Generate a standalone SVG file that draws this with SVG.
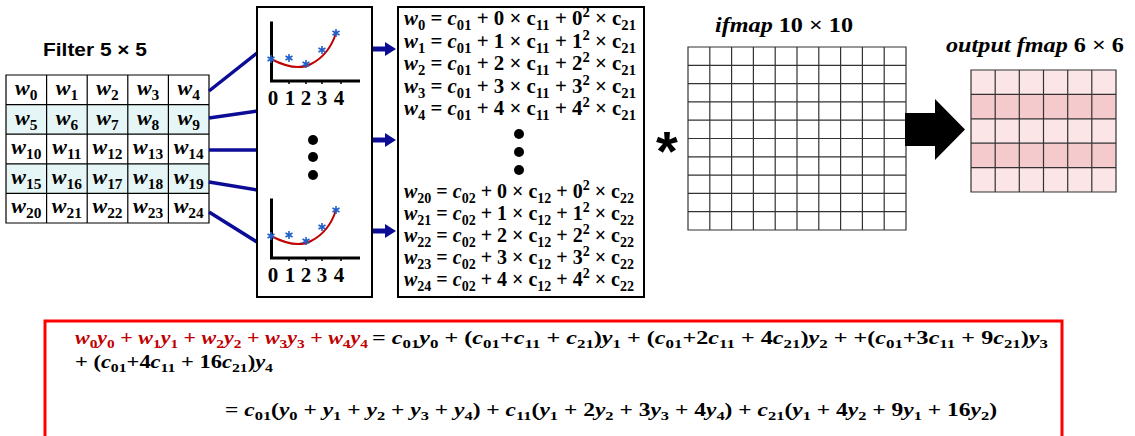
<svg xmlns="http://www.w3.org/2000/svg" xmlns:xlink="http://www.w3.org/1999/xlink" width="1135" height="436" viewBox="0 0 1135 436">
<style>
.m{font-family:"Liberation Serif","DejaVu Serif",serif;font-weight:bold;fill:#000}
.i{font-style:italic}
.sb{font-size:70%}
.red{fill:#c00000}
.cell{stroke:#000;stroke-width:1.2}
.grid{stroke:#333;stroke-width:1.2;fill:none}
.conn{stroke:#0c0c96;stroke-width:3.5;fill:none}
.arr{stroke:#0c0c96;stroke-width:5;fill:none;marker-end:url(#ah)}
.ax{stroke:#000;stroke-width:3;fill:none}
.tk{stroke:#000;stroke-width:1.5}
.crv{stroke:#c00000;stroke-width:2;fill:none}
.eq{font-size:20px}
.eqb{font-size:19px}
</style>
<defs>
<marker id="ah" markerWidth="12" markerHeight="14" refX="0" refY="7" orient="auto" markerUnits="userSpaceOnUse"><path d="M0,0 L11,7 L0,14 z" fill="#0c0c96"/></marker>
<g id="star"><path d="M0,-4 V4 M-3.5,-2 L3.5,2 M-3.5,2 L3.5,-2" stroke="#1f5fc8" stroke-width="1.6"/></g>
<g id="plot">
<path class="ax" d="M271.5,21.5 V81 H360"/>
<path class="tk" d="M289,81 v3 M306,81 v3 M322,81 v3 M341,81 v3"/>
<path class="crv" d="M271,59 Q296,72 311,64 Q329,55 336,33"/>
<use xlink:href="#star" x="271" y="59"/>
<use xlink:href="#star" x="289" y="58"/>
<use xlink:href="#star" x="306" y="64"/>
<use xlink:href="#star" x="322" y="50"/>
<use xlink:href="#star" x="336" y="33"/>
</g>
</defs>
<rect width="1135" height="436" fill="#fff"/>

<g id="filter">
<text x="43" y="56" font-family="Liberation Sans,Arial,sans-serif" font-weight="bold" font-size="18" textLength="104" lengthAdjust="spacingAndGlyphs">Filter 5 × 5</text>
<rect x="6" y="104.6" width="203" height="29.6" fill="#e6f5f5"/>
<rect x="6" y="163.8" width="203" height="29.6" fill="#e6f5f5"/>
<path class="cell" fill="none" d="M6,75 H209 V223 H6 Z M6,104.6 H209 M6,134.2 H209 M6,163.8 H209 M6,193.4 H209 M46.6,75 V223 M87.2,75 V223 M127.8,75 V223 M168.4,75 V223"/>
<g class="m" font-size="22" text-anchor="middle">
<text x="26.3" y="95"><tspan class="i">w</tspan><tspan class="sb" dy="5">0</tspan></text>
<text x="66.9" y="95"><tspan class="i">w</tspan><tspan class="sb" dy="5">1</tspan></text>
<text x="107.5" y="95"><tspan class="i">w</tspan><tspan class="sb" dy="5">2</tspan></text>
<text x="148.1" y="95"><tspan class="i">w</tspan><tspan class="sb" dy="5">3</tspan></text>
<text x="188.7" y="95"><tspan class="i">w</tspan><tspan class="sb" dy="5">4</tspan></text>
<text x="26.3" y="124.6"><tspan class="i">w</tspan><tspan class="sb" dy="5">5</tspan></text>
<text x="66.9" y="124.6"><tspan class="i">w</tspan><tspan class="sb" dy="5">6</tspan></text>
<text x="107.5" y="124.6"><tspan class="i">w</tspan><tspan class="sb" dy="5">7</tspan></text>
<text x="148.1" y="124.6"><tspan class="i">w</tspan><tspan class="sb" dy="5">8</tspan></text>
<text x="188.7" y="124.6"><tspan class="i">w</tspan><tspan class="sb" dy="5">9</tspan></text>
<text x="26.3" y="154.2"><tspan class="i">w</tspan><tspan class="sb" dy="5">10</tspan></text>
<text x="66.9" y="154.2"><tspan class="i">w</tspan><tspan class="sb" dy="5">11</tspan></text>
<text x="107.5" y="154.2"><tspan class="i">w</tspan><tspan class="sb" dy="5">12</tspan></text>
<text x="148.1" y="154.2"><tspan class="i">w</tspan><tspan class="sb" dy="5">13</tspan></text>
<text x="188.7" y="154.2"><tspan class="i">w</tspan><tspan class="sb" dy="5">14</tspan></text>
<text x="26.3" y="183.8"><tspan class="i">w</tspan><tspan class="sb" dy="5">15</tspan></text>
<text x="66.9" y="183.8"><tspan class="i">w</tspan><tspan class="sb" dy="5">16</tspan></text>
<text x="107.5" y="183.8"><tspan class="i">w</tspan><tspan class="sb" dy="5">17</tspan></text>
<text x="148.1" y="183.8"><tspan class="i">w</tspan><tspan class="sb" dy="5">18</tspan></text>
<text x="188.7" y="183.8"><tspan class="i">w</tspan><tspan class="sb" dy="5">19</tspan></text>
<text x="26.3" y="213.4"><tspan class="i">w</tspan><tspan class="sb" dy="5">20</tspan></text>
<text x="66.9" y="213.4"><tspan class="i">w</tspan><tspan class="sb" dy="5">21</tspan></text>
<text x="107.5" y="213.4"><tspan class="i">w</tspan><tspan class="sb" dy="5">22</tspan></text>
<text x="148.1" y="213.4"><tspan class="i">w</tspan><tspan class="sb" dy="5">23</tspan></text>
<text x="188.7" y="213.4"><tspan class="i">w</tspan><tspan class="sb" dy="5">24</tspan></text>
</g>
</g>

<g id="connectors">
<path class="conn" d="M209,91 L257,53 M209,118 L257,111 M209,150 L257,150 M209,182 L257,190 M209,212 L257,242"/>
<path class="arr" d="M372,49 H385"/>
<path class="arr" d="M372,140 H385"/>
<path class="arr" d="M372,231 H385"/>
</g>

<g id="curves">
<rect x="257" y="7" width="115" height="290" fill="#fff" stroke="#000" stroke-width="2"/>
<use xlink:href="#plot"/>
<use xlink:href="#plot" y="177"/>
<g class="m" font-size="21" text-anchor="middle">
<text y="105"><tspan x="273">0</tspan><tspan x="290">1</tspan><tspan x="306">2</tspan><tspan x="322">3</tspan><tspan x="339">4</tspan></text>
<text y="282"><tspan x="273">0</tspan><tspan x="290">1</tspan><tspan x="306">2</tspan><tspan x="322">3</tspan><tspan x="339">4</tspan></text>
</g>
<circle cx="313" cy="140" r="5"/>
<circle cx="313" cy="157" r="5"/>
<circle cx="313" cy="175" r="5"/>
</g>

<g id="equations">
<rect x="398" y="7" width="246" height="290" fill="#fff" stroke="#000" stroke-width="2"/>
<g class="m eq">
<text x="404" y="25" textLength="232" lengthAdjust="spacingAndGlyphs"><tspan class="i">w</tspan><tspan class="sb" dy="5">0</tspan><tspan dy="-5"> = </tspan><tspan class="i">c</tspan><tspan class="sb" dy="5">01</tspan><tspan dy="-5"> + 0 × c</tspan><tspan class="sb" dy="5">11</tspan><tspan dy="-5"> + 0</tspan><tspan class="sb" dy="-8">2</tspan><tspan dy="8"> × c</tspan><tspan class="sb" dy="5">21</tspan></text>
<text x="404" y="47.5" textLength="232" lengthAdjust="spacingAndGlyphs"><tspan class="i">w</tspan><tspan class="sb" dy="5">1</tspan><tspan dy="-5"> = </tspan><tspan class="i">c</tspan><tspan class="sb" dy="5">01</tspan><tspan dy="-5"> + 1 × c</tspan><tspan class="sb" dy="5">11</tspan><tspan dy="-5"> + 1</tspan><tspan class="sb" dy="-8">2</tspan><tspan dy="8"> × c</tspan><tspan class="sb" dy="5">21</tspan></text>
<text x="404" y="70" textLength="232" lengthAdjust="spacingAndGlyphs"><tspan class="i">w</tspan><tspan class="sb" dy="5">2</tspan><tspan dy="-5"> = </tspan><tspan class="i">c</tspan><tspan class="sb" dy="5">01</tspan><tspan dy="-5"> + 2 × c</tspan><tspan class="sb" dy="5">11</tspan><tspan dy="-5"> + 2</tspan><tspan class="sb" dy="-8">2</tspan><tspan dy="8"> × c</tspan><tspan class="sb" dy="5">21</tspan></text>
<text x="404" y="92.5" textLength="232" lengthAdjust="spacingAndGlyphs"><tspan class="i">w</tspan><tspan class="sb" dy="5">3</tspan><tspan dy="-5"> = </tspan><tspan class="i">c</tspan><tspan class="sb" dy="5">01</tspan><tspan dy="-5"> + 3 × c</tspan><tspan class="sb" dy="5">11</tspan><tspan dy="-5"> + 3</tspan><tspan class="sb" dy="-8">2</tspan><tspan dy="8"> × c</tspan><tspan class="sb" dy="5">21</tspan></text>
<text x="404" y="115" textLength="232" lengthAdjust="spacingAndGlyphs"><tspan class="i">w</tspan><tspan class="sb" dy="5">4</tspan><tspan dy="-5"> = </tspan><tspan class="i">c</tspan><tspan class="sb" dy="5">01</tspan><tspan dy="-5"> + 4 × c</tspan><tspan class="sb" dy="5">11</tspan><tspan dy="-5"> + 4</tspan><tspan class="sb" dy="-8">2</tspan><tspan dy="8"> × c</tspan><tspan class="sb" dy="5">21</tspan></text>
<text x="404" y="198" textLength="230" lengthAdjust="spacingAndGlyphs"><tspan class="i">w</tspan><tspan class="sb" dy="5">20</tspan><tspan dy="-5"> = </tspan><tspan class="i">c</tspan><tspan class="sb" dy="5">02</tspan><tspan dy="-5"> + 0 × c</tspan><tspan class="sb" dy="5">12</tspan><tspan dy="-5"> + 0</tspan><tspan class="sb" dy="-8">2</tspan><tspan dy="8"> × c</tspan><tspan class="sb" dy="5">22</tspan></text>
<text x="404" y="220" textLength="230" lengthAdjust="spacingAndGlyphs"><tspan class="i">w</tspan><tspan class="sb" dy="5">21</tspan><tspan dy="-5"> = </tspan><tspan class="i">c</tspan><tspan class="sb" dy="5">02</tspan><tspan dy="-5"> + 1 × c</tspan><tspan class="sb" dy="5">12</tspan><tspan dy="-5"> + 1</tspan><tspan class="sb" dy="-8">2</tspan><tspan dy="8"> × c</tspan><tspan class="sb" dy="5">22</tspan></text>
<text x="404" y="242" textLength="230" lengthAdjust="spacingAndGlyphs"><tspan class="i">w</tspan><tspan class="sb" dy="5">22</tspan><tspan dy="-5"> = </tspan><tspan class="i">c</tspan><tspan class="sb" dy="5">02</tspan><tspan dy="-5"> + 2 × c</tspan><tspan class="sb" dy="5">12</tspan><tspan dy="-5"> + 2</tspan><tspan class="sb" dy="-8">2</tspan><tspan dy="8"> × c</tspan><tspan class="sb" dy="5">22</tspan></text>
<text x="404" y="264" textLength="230" lengthAdjust="spacingAndGlyphs"><tspan class="i">w</tspan><tspan class="sb" dy="5">23</tspan><tspan dy="-5"> = </tspan><tspan class="i">c</tspan><tspan class="sb" dy="5">02</tspan><tspan dy="-5"> + 3 × c</tspan><tspan class="sb" dy="5">12</tspan><tspan dy="-5"> + 3</tspan><tspan class="sb" dy="-8">2</tspan><tspan dy="8"> × c</tspan><tspan class="sb" dy="5">22</tspan></text>
<text x="404" y="286" textLength="230" lengthAdjust="spacingAndGlyphs"><tspan class="i">w</tspan><tspan class="sb" dy="5">24</tspan><tspan dy="-5"> = </tspan><tspan class="i">c</tspan><tspan class="sb" dy="5">02</tspan><tspan dy="-5"> + 4 × c</tspan><tspan class="sb" dy="5">12</tspan><tspan dy="-5"> + 4</tspan><tspan class="sb" dy="-8">2</tspan><tspan dy="8"> × c</tspan><tspan class="sb" dy="5">22</tspan></text>
</g>
<circle cx="519" cy="134" r="5"/>
<circle cx="519" cy="152" r="5"/>
<circle cx="519" cy="170" r="5"/>
</g>

<g id="conv-op">
<text x="667" y="170" text-anchor="middle" font-family="Liberation Sans,Arial,sans-serif" font-weight="bold" font-size="56">*</text>
</g>

<g id="ifmap">
<text class="m" x="715" y="32" font-size="22" textLength="138" lengthAdjust="spacingAndGlyphs"><tspan class="i">ifmap</tspan> 10 × 10</text>
<rect x="688" y="47" width="218" height="183" fill="#fff"/>
<path class="grid" d="M688,47 H906 V230 H688 Z M709.8,47 V230 M731.6,47 V230 M753.4,47 V230 M775.2,47 V230 M797,47 V230 M818.8,47 V230 M840.6,47 V230 M862.4,47 V230 M884.2,47 V230 M688,65.3 H906 M688,83.6 H906 M688,101.9 H906 M688,120.2 H906 M688,138.5 H906 M688,156.8 H906 M688,175.1 H906 M688,193.4 H906 M688,211.7 H906"/>
</g>

<g id="big-arrow">
<polygon points="905,113 935,113 935,99 965,129.5 935,160 935,146 905,146" fill="#000"/>
</g>

<g id="output">
<text class="m" x="946" y="52" font-size="22" textLength="178" lengthAdjust="spacingAndGlyphs"><tspan class="i">output fmap</tspan> 6 × 6</text>
<rect x="971" y="70" width="145" height="24.4" fill="#fbe5e6"/>
<rect x="971" y="94.4" width="145" height="24.4" fill="#f4cacc"/>
<rect x="971" y="118.8" width="145" height="24.4" fill="#fbe5e6"/>
<rect x="971" y="143.2" width="145" height="24.4" fill="#f4cacc"/>
<rect x="971" y="167.6" width="145" height="24.4" fill="#fbe5e6"/>
<path class="grid" d="M971,70 H1116 V192 H971 Z M995.2,70 V192 M1019.3,70 V192 M1043.5,70 V192 M1067.7,70 V192 M1091.8,70 V192 M971,94.4 H1116 M971,118.8 H1116 M971,143.2 H1116 M971,167.6 H1116"/>
</g>

<g id="formula">
<rect x="45" y="321" width="1017" height="125" fill="#fff" stroke="#ff0000" stroke-width="3"/>
<g class="m eqb">
<text class="red" x="75" y="344" textLength="293" lengthAdjust="spacingAndGlyphs"><tspan class="i">w</tspan><tspan class="sb" dy="4">0</tspan><tspan class="i" dy="-4">y</tspan><tspan class="sb" dy="4">0</tspan><tspan dy="-4"> + </tspan><tspan class="i">w</tspan><tspan class="sb" dy="4">1</tspan><tspan class="i" dy="-4">y</tspan><tspan class="sb" dy="4">1</tspan><tspan dy="-4"> + </tspan><tspan class="i">w</tspan><tspan class="sb" dy="4">2</tspan><tspan class="i" dy="-4">y</tspan><tspan class="sb" dy="4">2</tspan><tspan dy="-4"> + </tspan><tspan class="i">w</tspan><tspan class="sb" dy="4">3</tspan><tspan class="i" dy="-4">y</tspan><tspan class="sb" dy="4">3</tspan><tspan dy="-4"> +  </tspan><tspan class="i">w</tspan><tspan class="sb" dy="4">4</tspan><tspan class="i" dy="-4">y</tspan><tspan class="sb" dy="4">4</tspan></text>
<text x="372" y="344" textLength="676" lengthAdjust="spacingAndGlyphs">= <tspan class="i">c</tspan><tspan class="sb" dy="4">01</tspan><tspan class="i" dy="-4">y</tspan><tspan class="sb" dy="4">0</tspan><tspan dy="-4"> + (</tspan><tspan class="i">c</tspan><tspan class="sb" dy="4">01</tspan><tspan dy="-4">+</tspan><tspan class="i">c</tspan><tspan class="sb" dy="4">11</tspan><tspan dy="-4"> + </tspan><tspan class="i">c</tspan><tspan class="sb" dy="4">21</tspan><tspan dy="-4">)</tspan><tspan class="i">y</tspan><tspan class="sb" dy="4">1</tspan><tspan dy="-4"> + (</tspan><tspan class="i">c</tspan><tspan class="sb" dy="4">01</tspan><tspan dy="-4">+2</tspan><tspan class="i">c</tspan><tspan class="sb" dy="4">11</tspan><tspan dy="-4"> + 4</tspan><tspan class="i">c</tspan><tspan class="sb" dy="4">21</tspan><tspan dy="-4">)</tspan><tspan class="i">y</tspan><tspan class="sb" dy="4">2</tspan><tspan dy="-4"> + +(</tspan><tspan class="i">c</tspan><tspan class="sb" dy="4">01</tspan><tspan dy="-4">+3</tspan><tspan class="i">c</tspan><tspan class="sb" dy="4">11</tspan><tspan dy="-4"> + 9</tspan><tspan class="i">c</tspan><tspan class="sb" dy="4">21</tspan><tspan dy="-4">)</tspan><tspan class="i">y</tspan><tspan class="sb" dy="4">3</tspan></text>
<text x="75" y="368" textLength="198" lengthAdjust="spacingAndGlyphs">+ (<tspan class="i">c</tspan><tspan class="sb" dy="4">01</tspan><tspan dy="-4">+4</tspan><tspan class="i">c</tspan><tspan class="sb" dy="4">11</tspan><tspan dy="-4"> + 16</tspan><tspan class="i">c</tspan><tspan class="sb" dy="4">21</tspan><tspan dy="-4">)</tspan><tspan class="i">y</tspan><tspan class="sb" dy="4">4</tspan></text>
<text x="225" y="416" textLength="772" lengthAdjust="spacingAndGlyphs">= <tspan class="i">c</tspan><tspan class="sb" dy="4">01</tspan><tspan dy="-4">(</tspan><tspan class="i">y</tspan><tspan class="sb" dy="4">0</tspan><tspan dy="-4"> + </tspan><tspan class="i">y</tspan><tspan class="sb" dy="4">1</tspan><tspan dy="-4"> + </tspan><tspan class="i">y</tspan><tspan class="sb" dy="4">2</tspan><tspan dy="-4"> + </tspan><tspan class="i">y</tspan><tspan class="sb" dy="4">3</tspan><tspan dy="-4"> + </tspan><tspan class="i">y</tspan><tspan class="sb" dy="4">4</tspan><tspan dy="-4">) + </tspan><tspan class="i">c</tspan><tspan class="sb" dy="4">11</tspan><tspan dy="-4">(</tspan><tspan class="i">y</tspan><tspan class="sb" dy="4">1</tspan><tspan dy="-4"> + 2</tspan><tspan class="i">y</tspan><tspan class="sb" dy="4">2</tspan><tspan dy="-4"> + 3</tspan><tspan class="i">y</tspan><tspan class="sb" dy="4">3</tspan><tspan dy="-4"> + 4</tspan><tspan class="i">y</tspan><tspan class="sb" dy="4">4</tspan><tspan dy="-4">) + </tspan><tspan class="i">c</tspan><tspan class="sb" dy="4">21</tspan><tspan dy="-4">(</tspan><tspan class="i">y</tspan><tspan class="sb" dy="4">1</tspan><tspan dy="-4"> + 4</tspan><tspan class="i">y</tspan><tspan class="sb" dy="4">2</tspan><tspan dy="-4"> + 9</tspan><tspan class="i">y</tspan><tspan class="sb" dy="4">1</tspan><tspan dy="-4"> + 16</tspan><tspan class="i">y</tspan><tspan class="sb" dy="4">2</tspan><tspan dy="-4">)</tspan></text>
</g>
</g>
</svg>
